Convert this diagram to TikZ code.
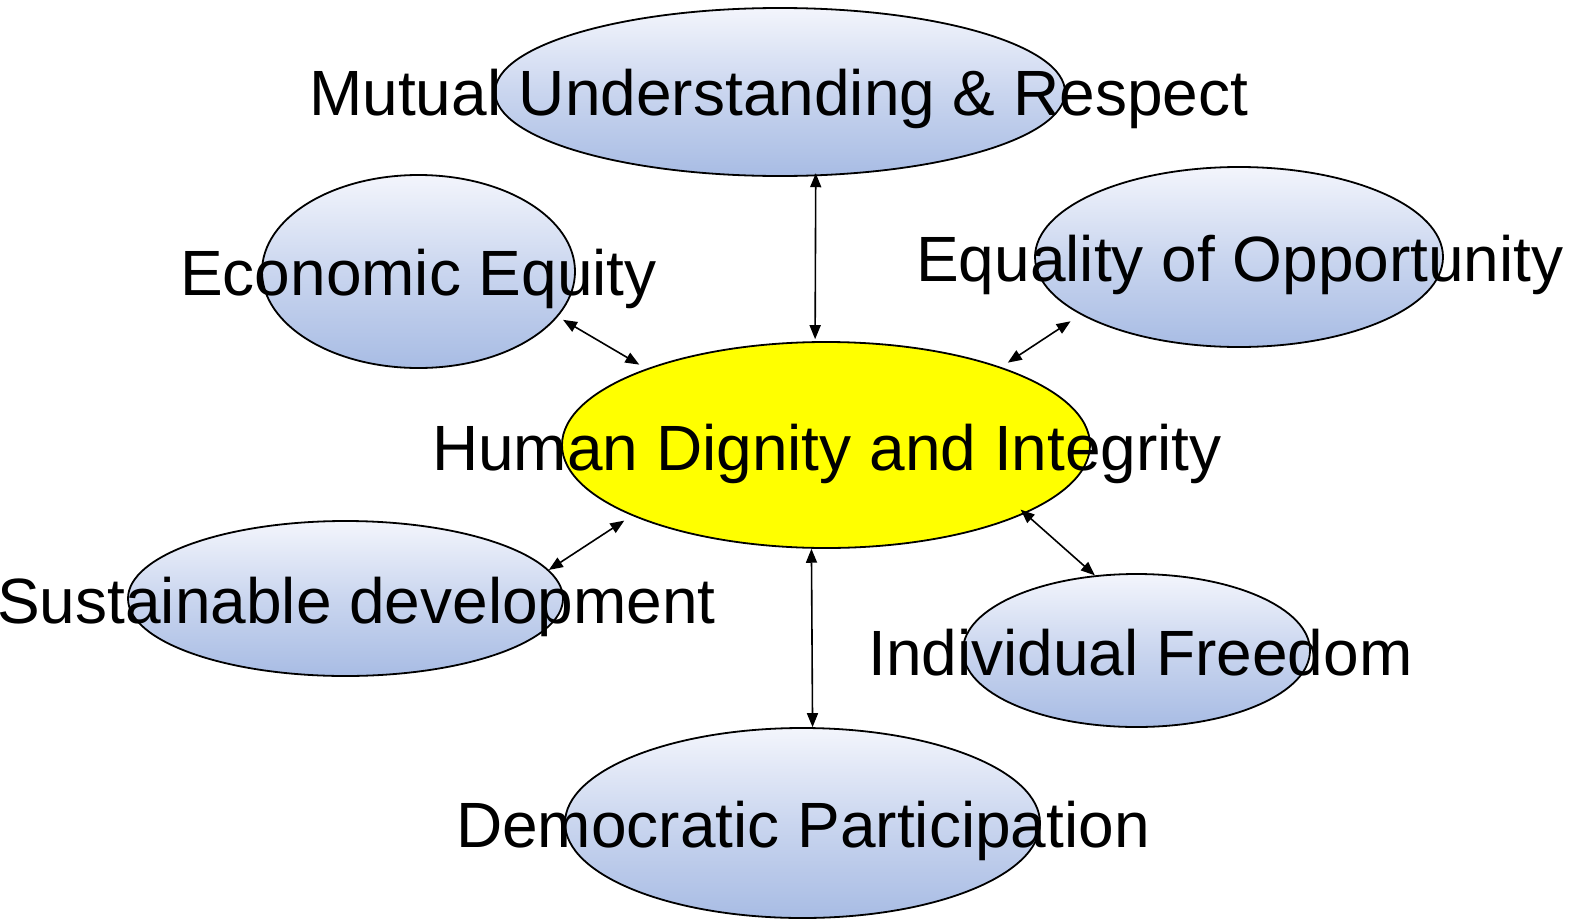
\documentclass[tikz,border=0pt]{standalone}
\usepackage{fontspec}
\setmainfont{Liberation Sans}
\usetikzlibrary{shapes.geometric,arrows.meta}
\definecolor{elltop}{HTML}{F3F5FC}
\definecolor{ellbot}{HTML}{A8BCE4}
\definecolor{hubfill}{HTML}{FFFF00}
\tikzset{
  ellbase/.style={ellipse, draw=black, line width=1.8pt, inner sep=0pt},
  bubble/.style={ellbase, top color=elltop, bottom color=ellbot, middle color=ellbot!55!elltop},
  hub/.style={ellbase, fill=hubfill},
  lbl/.style={anchor=base west, inner sep=0pt, font=\fontsize{64}{77}\selectfont},
  link/.style={line width=1.6pt, {Triangle[length=14pt,width=11pt]}-{Triangle[length=14pt,width=11pt]}}
}
\begin{document}
\begin{tikzpicture}[x=1pt,y=-1pt]
\useasboundingbox (0,0) rectangle (1569,921);
% ellipses
\node[bubble, minimum width=570pt, minimum height=168pt] (mut) at (780,92) {};
\node[bubble, minimum width=313pt, minimum height=193pt] (eco) at (418.5,271.5) {};
\node[bubble, minimum width=408pt, minimum height=180pt] (equ) at (1239,257) {};
\node[hub, minimum width=528pt, minimum height=206pt] (hum) at (826,445) {};
\node[bubble, minimum width=435pt, minimum height=155pt] (sus) at (345.5,598.5) {};
\node[bubble, minimum width=347pt, minimum height=153pt] (ind) at (1136.5,650.5) {};
\node[bubble, minimum width=475pt, minimum height=190pt] (dem) at (802.5,823) {};
% labels
\node[lbl] (tmut) at (309,115) {Mutual Understanding \& Respect};
\node[lbl] (teco) at (180,295) {Economic Equity};
\node[lbl] (tequ) at (916,281) {Equality of Opportunity};
\node[lbl] (thum) at (432,470) {Human Dignity and Integrity};
\node[lbl] (tsus) at (-3,623) {Sustainable development};
\node[lbl] (tind) at (868,675) {Individual Freedom};
\node[lbl] (tdem) at (456,847) {Democratic Participation};
% connectors
\draw[link, shorten <=-3pt, shorten >=2pt] (mut.-67.5) -- (hum.96.2);
\draw[link, shorten <=6pt, shorten >=8pt] (eco.-18.7) -- (hum.157.4);
\draw[link, shorten <=12pt, shorten >=8pt] (equ.-160.2) -- (hum.24.3);
\draw[link, shorten >=9pt] (sus.8.4) -- (hum.-160.1);
\draw[link, shorten <=-6pt] (hum.-19.6) -- (ind.119.2);
\draw[link] (hum.-98.2) -- (dem.84.7);
\end{tikzpicture}
\end{document}
